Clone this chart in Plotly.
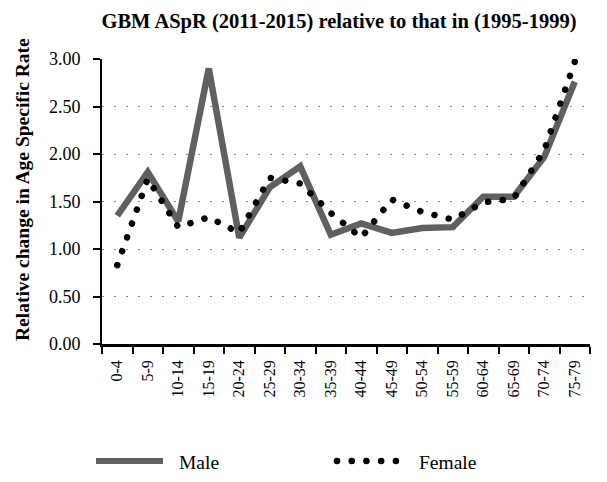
import plotly.graph_objects as go

ages = ["0-4", "5-9", "10-14", "15-19", "20-24", "25-29", "30-34", "35-39",
        "40-44", "45-49", "50-54", "55-59", "60-64", "65-69", "70-74", "75-79"]
male = [1.35, 1.81, 1.29, 2.90, 1.12, 1.65, 1.87, 1.15,
        1.27, 1.17, 1.22, 1.23, 1.55, 1.55, 1.97, 2.76]
female = [0.83, 1.74, 1.23, 1.335, 1.17, 1.75, 1.69, 1.38,
          1.12, 1.52, 1.39, 1.31, 1.49, 1.53, 2.04, 2.97]
y_ticks = [0, 0.5, 1.0, 1.5, 2.0, 2.5, 3.0]
y_ticktext = ["0.00", "0.50", "1.00", "1.50", "2.00", "2.50", "3.00"]

W, H = 607, 482
L, R, T, B = 102, 17, 59, 138
PW, PH = W - L - R, H - T - B
FONT = "Liberation Serif"
MALE_COLOR = "#606060"
DOT_DASH = "0.1px,14.6px"


def px(x):
    return (x - L) / PW


def py(y):
    return (H - B - y) / PH


fig = go.Figure()
fig.add_trace(go.Scatter(x=ages, y=male, mode="lines", name="Male",
                         line=dict(color=MALE_COLOR, width=6.5), showlegend=False))
fig.add_trace(go.Scatter(x=ages, y=female, mode="lines", name="Female",
                         line=dict(color="black", width=6.5, dash=DOT_DASH), showlegend=False))

# legend drawn manually
shapes = [
    dict(type="line", xref="paper", yref="paper", x0=px(96), x1=px(163), y0=py(461), y1=py(461),
         line=dict(color=MALE_COLOR, width=6)),
    dict(type="line", xref="paper", yref="paper", x0=px(337), x1=px(399), y0=py(461), y1=py(461),
         line=dict(color="black", width=6.5, dash=DOT_DASH)),
]
annotations = [
    dict(text="Male", xref="paper", yref="paper", x=px(177), y=py(462), xanchor="left", yanchor="middle",
         showarrow=False, font=dict(family=FONT, size=19.5, color="black")),
    dict(text="Female", xref="paper", yref="paper", x=px(417), y=py(462), xanchor="left", yanchor="middle",
         showarrow=False, font=dict(family=FONT, size=19.5, color="black")),
    dict(text="<b>Relative change in Age Specific Rate</b>", xref="paper", yref="paper",
         x=px(22), y=py(190), xanchor="center", yanchor="middle", textangle=-90,
         showarrow=False, font=dict(family=FONT, size=19.5, color="black")),
]

fig.update_layout(
    width=W, height=H,
    margin=dict(l=L, r=R, t=T, b=B, pad=0),
    paper_bgcolor="white", plot_bgcolor="white",
    font=dict(family=FONT, size=16, color="black"),
    title=dict(text="<b>GBM ASpR (2011-2015) relative to that in (1995-1999)</b>",
               x=339 / W, xanchor="center", y=1 - 21 / H, yanchor="middle",
               font=dict(family=FONT, size=20.5, color="black")),
    shapes=shapes, annotations=annotations,
)
fig.update_xaxes(
    type="category", categoryorder="array", categoryarray=ages, range=[-0.5, 15.5],
    tickangle=-90, tickson="boundaries", ticks="outside", ticklen=7, tickwidth=2,
    tickcolor="black", showline=True, linecolor="black", linewidth=2.5,
    showgrid=False, zeroline=False, tickfont=dict(family=FONT, size=16),
    ticklabelstandoff=7,
)
fig.update_yaxes(
    range=[0, 3.0], tickvals=y_ticks, ticktext=y_ticktext,
    ticks="outside", ticklen=7, tickwidth=2, tickcolor="black",
    showline=True, linecolor="black", linewidth=2,
    showgrid=True, gridcolor="#8a8a8a", gridwidth=1, griddash="2px,10px",
    zeroline=False, tickfont=dict(family=FONT, size=18),
    ticklabelstandoff=9,
)

post = """
document.body.style.margin='0';
var gd = document.getElementById('{plot_id}');
function fixCaps(){
  gd.querySelectorAll('path').forEach(function(p){
    var d = p.style.strokeDasharray || p.getAttribute('stroke-dasharray') || '';
    if (/^0\\.1/.test(d.trim())) { p.style.strokeLinecap = 'round'; }
  });
}
fixCaps();
if (gd.on) { gd.on('plotly_afterplot', fixCaps); }
"""

fig.write_html("out.html", post_script=post, config={"displayModeBar": False})
